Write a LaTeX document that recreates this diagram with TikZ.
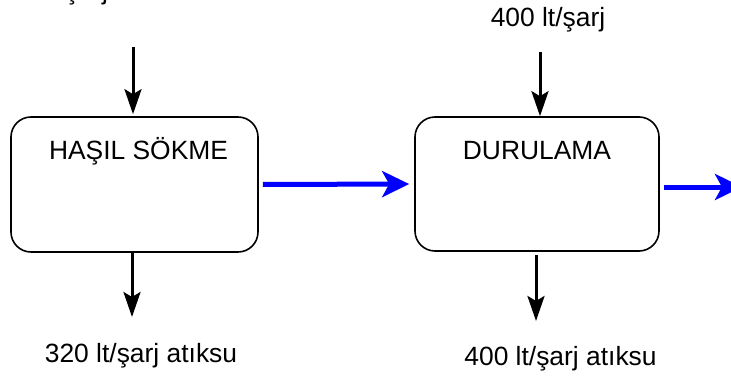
\documentclass[tikz,border=0pt]{standalone}
\usepackage{fontspec}
\setmainfont{Liberation Sans}
\usetikzlibrary{arrows.meta}
\begin{document}
\begin{tikzpicture}[x=1pt,y=-1pt,
  procbox/.style={draw=black, line width=1.6pt, rounded corners=20pt, fill=white, inner sep=0pt},
  lbl/.style={inner sep=0pt, font=\fontsize{26.4}{30}\selectfont},
  blackarrow/.style={draw=black, line width=3pt, -{Stealth[length=25pt,width=17pt,inset=5pt]}},
  bluearrow/.style={draw=blue, line width=5pt, -{Stealth[length=27pt,width=26pt,inset=7pt]}}]
\useasboundingbox (0,0) rectangle (731,380);
% boxes
\node[procbox, minimum width=247pt, minimum height=135pt] (b1) at (134.5,184.5) {};
\node[procbox, minimum width=244pt, minimum height=134pt] (b2) at (537,184) {};
% box labels
\node[lbl, anchor=base] (t1) at (138.5,159) {HAŞIL SÖKME};
\node[lbl, anchor=base] (t2) at (537,159) {DURULAMA};
% flow labels
\node[lbl, anchor=base west] (in1txt) at (-6.7,-0.5) {320 lt/şarj su};
\node[lbl, anchor=base] (in2txt) at (548,26) {400 lt/şarj};
\node[lbl, anchor=base] (out1txt) at (141,362) {320 lt/şarj atıksu};
\node[lbl, anchor=base] (out2txt) at (560.5,365) {400 lt/şarj atıksu};
% connector ends
\coordinate (in1) at (133,47);
\coordinate (in2) at (540,52);
\coordinate (o1s) at (132,252);
\coordinate (o1) at (132,317);
\coordinate (o2s) at (536,255);
\coordinate (o2) at (536,321);
\coordinate (e2) at (742,187);
% arrows
\draw[blackarrow, shorten >=2pt] (in1) -- (in1 |- b1.north);
\draw[blackarrow, shorten >=0pt] (in2) -- (in2 |- b2.north);
\draw[blackarrow] (o1s) -- (o1);
\draw[blackarrow] (o2s) -- (o2);
\draw[bluearrow, shorten <=4pt, shorten >=5pt] (b1.east) -- (b2.west);
\draw[bluearrow, shorten <=4pt] (b2.east |- e2) -- (e2);
\end{tikzpicture}
\end{document}
